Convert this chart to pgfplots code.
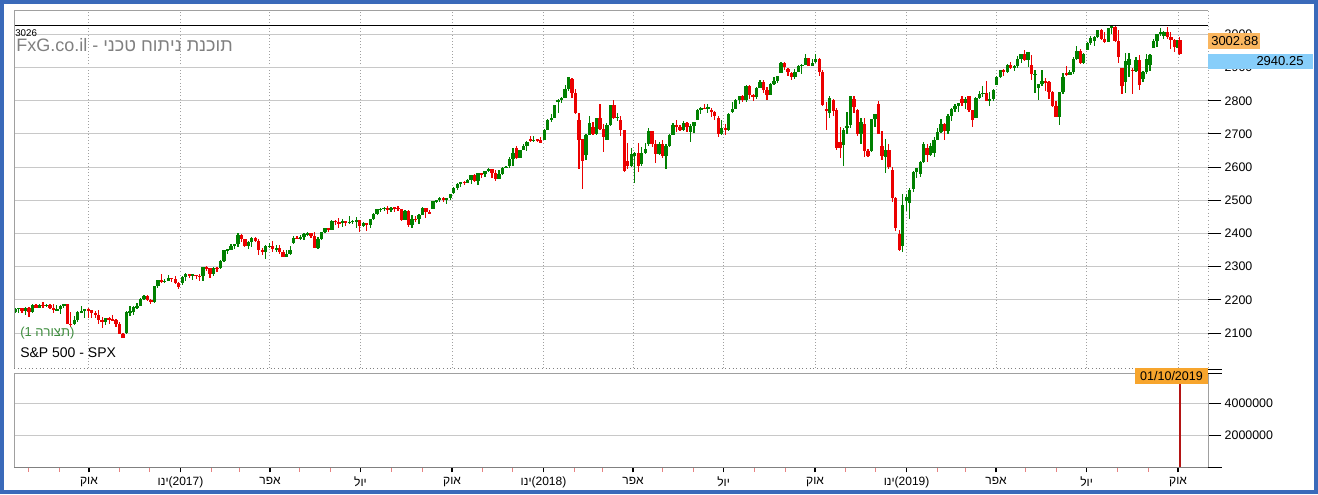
\documentclass[border=0pt]{standalone}
\usepackage{pgfplots}
\pgfplotsset{compat=1.18}
\usepackage{pgfplotstable}
\usepackage{fontspec}
\setmainfont{Liberation Sans}
\TeXXeTstate=1
\newcommand{\heb}[1]{\beginR #1\endR}
\definecolor{winblue}{RGB}{58,106,186}
\definecolor{cgreen}{RGB}{0,128,0}
\definecolor{cred}{RGB}{235,0,0}
\definecolor{gridgray}{RGB}{200,200,200}
\definecolor{framegray}{RGB}{160,160,160}
\definecolor{lblorange}{RGB}{250,182,95}
\definecolor{lblorangeb}{RGB}{247,165,45}
\definecolor{lblblue}{RGB}{135,206,250}
\definecolor{wmgray}{RGB}{128,128,128}
\definecolor{cfggreen}{RGB}{60,140,60}
\definecolor{volred}{RGB}{180,20,20}
\definecolor{minortick}{RGB}{230,130,130}

\pgfplotstableread{
x o h l c
0.1 2162 2175 2159 2173
0.6 2173 2176 2160 2175
1.1 2175 2176 2160 2166
1.6 2166 2177 2155 2174
2.1 2174 2178 2148 2163
2.6 2163 2187 2159 2183
3.1 2183 2188 2174 2175
3.6 2175 2188 2174 2184
4.1 2184 2194 2175 2182
4.6 2182 2188 2177 2184
5.1 2184 2188 2172 2176
5.6 2176 2187 2160 2169
6.1 2169 2183 2167 2171
6.6 2171 2184 2157 2180
7.1 2180 2187 2175 2186
7.6 2186 2188 2127 2128
8.1 2128 2164 2119 2126
8.6 2126 2150 2124 2139
9.1 2139 2165 2133 2164
9.6 2164 2180 2160 2165
10.1 2165 2173 2145 2171
10.6 2171 2175 2144 2168
11.1 2168 2169 2145 2160
11.6 2160 2165 2145 2153
12.1 2153 2169 2128 2139
12.6 2139 2149 2115 2133
13.1 2133 2146 2124 2144
13.6 2144 2147 2126 2141
14.1 2141 2155 2136 2139
14.6 2139 2142 2119 2126
15.1 2126 2133 2097 2098
15.6 2098 2100 2084 2085
16.1 2100 2165 2097 2163
16.6 2163 2182 2151 2164
17.1 2164 2182 2153 2177
17.6 2177 2189 2172 2182
18.1 2182 2205 2181 2204
18.6 2204 2214 2201 2213
19.1 2213 2214 2196 2199
19.6 2199 2202 2187 2192
20.1 2192 2242 2191 2241
20.6 2241 2260 2237 2260
21.1 2260 2278 2250 2253
21.6 2253 2264 2250 2258
22.1 2258 2274 2256 2265
22.6 2265 2266 2254 2264
23.1 2264 2273 2248 2250
23.6 2250 2254 2234 2239
24.1 2251 2272 2245 2270
24.6 2270 2282 2258 2277
25.1 2277 2279 2265 2275
25.6 2275 2278 2260 2275
26.1 2275 2276 2263 2272
26.6 2272 2277 2258 2271
27.1 2271 2300 2257 2298
27.6 2298 2301 2288 2295
28.1 2295 2296 2267 2279
28.6 2279 2299 2272 2297
29.1 2297 2300 2284 2295
29.6 2295 2319 2294 2316
30.1 2316 2351 2315 2350
30.6 2350 2352 2339 2351
31.1 2351 2367 2350 2362
31.6 2362 2368 2352 2367
32.1 2367 2401 2358 2396
32.6 2396 2397 2375 2383
33.1 2383 2384 2360 2363
33.6 2363 2377 2354 2373
34.1 2373 2390 2360 2385
34.6 2385 2388 2375 2378
35.1 2378 2382 2336 2349
35.6 2349 2356 2335 2344
36.1 2344 2364 2322 2361
36.6 2361 2370 2356 2363
37.1 2363 2378 2344 2352
37.6 2352 2366 2345 2356
38.1 2356 2366 2338 2345
38.6 2345 2349 2328 2329
39.1 2329 2350 2328 2338
39.6 2338 2362 2335 2349
40.1 2370 2392 2368 2387
40.6 2387 2392 2382 2384
41.1 2384 2394 2380 2389
41.6 2389 2400 2380 2399
42.1 2399 2404 2392 2400
42.6 2400 2402 2386 2391
43.1 2391 2405 2356 2357
43.6 2357 2390 2352 2382
44.1 2382 2405 2380 2404
44.6 2404 2418 2403 2416
45.1 2416 2418 2405 2412
45.6 2412 2440 2410 2439
46.1 2439 2440 2425 2434
46.6 2434 2446 2416 2432
47.1 2432 2443 2419 2437
47.6 2437 2438 2422 2433
48.1 2433 2454 2430 2435
48.6 2435 2441 2428 2438
49.1 2438 2450 2417 2440
49.6 2440 2442 2405 2423
50.1 2423 2434 2419 2432
50.6 2432 2433 2407 2425
51.1 2425 2445 2416 2443
51.6 2443 2463 2441 2459
52.1 2459 2474 2455 2473
52.6 2473 2478 2465 2473
53.1 2473 2481 2467 2478
53.6 2478 2484 2460 2472
54.1 2472 2479 2466 2478
54.6 2478 2480 2466 2477
55.1 2477 2484 2468 2474
55.6 2474 2475 2437 2441
56.1 2441 2470 2441 2468
56.6 2468 2470 2420 2426
57.1 2426 2456 2418 2444
57.6 2444 2452 2436 2443
58.1 2443 2459 2429 2457
58.6 2457 2481 2456 2477
59.1 2477 2477 2447 2465
59.6 2465 2470 2458 2461
60.1 2474 2499 2474 2498
60.6 2498 2501 2491 2500
61.1 2500 2509 2496 2508
61.6 2508 2509 2496 2502
62.1 2502 2508 2488 2507
62.6 2507 2520 2502 2519
63.1 2521 2540 2520 2537
63.6 2537 2553 2532 2549
64.1 2549 2555 2541 2555
64.6 2555 2558 2547 2553
65.1 2553 2564 2551 2561
65.6 2561 2576 2548 2575
66.1 2575 2578 2555 2557
66.6 2557 2582 2545 2581
67.1 2581 2583 2566 2579
67.6 2579 2589 2571 2588
68.1 2588 2597 2584 2594
68.6 2594 2594 2566 2582
69.1 2582 2590 2557 2565
69.6 2565 2590 2565 2579
70.1 2579 2600 2575 2597
70.6 2597 2605 2596 2602
71.1 2602 2630 2597 2626
71.6 2626 2657 2605 2642
72.1 2657 2665 2624 2629
72.6 2629 2652 2628 2652
73.1 2652 2669 2652 2663
73.6 2663 2680 2650 2675
74.1 2685 2695 2676 2679
74.6 2679 2693 2676 2683
75.1 2683 2685 2676 2682
75.6 2682 2692 2673 2674
76.1 2683 2714 2683 2713
76.6 2713 2744 2712 2743
77.1 2743 2760 2737 2748
77.6 2748 2787 2747 2786
78.1 2798 2807 2763 2803
78.6 2803 2811 2792 2810
79.1 2810 2849 2808 2837
79.6 2837 2873 2830 2873
80.1 2867 2870 2808 2824
80.6 2824 2836 2759 2762
81.1 2741 2763 2593 2682
81.6 2685 2685 2533 2620
82.1 2636 2701 2622 2698
82.6 2698 2754 2697 2732
83.1 2722 2737 2698 2701
83.6 2701 2748 2697 2747
84.1 2747 2789 2713 2714
84.6 2714 2730 2647 2691
85.1 2681 2732 2681 2727
85.6 2727 2787 2725 2786
86.1 2786 2801 2746 2749
86.6 2749 2762 2740 2752
87.1 2741 2753 2694 2711
87.6 2711 2712 2585 2588
88.1 2619 2674 2593 2605
88.6 2605 2659 2601 2641
89.1 2633 2645 2553 2644
89.6 2644 2672 2586 2604
90.1 2611 2662 2605 2642
90.6 2642 2674 2639 2656
91.1 2670 2718 2664 2708
91.6 2708 2710 2660 2670
92.1 2670 2683 2612 2639
92.6 2639 2677 2638 2670
93.1 2670 2683 2627 2635
93.6 2635 2670 2594 2663
94.1 2663 2699 2662 2697
94.6 2697 2732 2696 2728
95.1 2728 2742 2707 2722
95.6 2722 2726 2708 2713
96.1 2713 2739 2708 2733
96.6 2733 2735 2707 2721
97.1 2705 2731 2676 2725
97.6 2725 2737 2702 2735
98.1 2743 2774 2742 2772
98.6 2772 2780 2760 2779
99.1 2779 2791 2774 2775
99.6 2775 2790 2763 2780
100.1 2772 2778 2750 2767
100.6 2767 2769 2743 2755
101.1 2748 2754 2691 2699
101.6 2699 2743 2698 2718
102.1 2718 2729 2698 2713
102.6 2713 2764 2710 2760
103.1 2766 2796 2763 2775
103.6 2775 2804 2775 2801
104.1 2801 2816 2789 2815
104.6 2815 2817 2795 2802
105.1 2802 2848 2795 2846
105.6 2846 2848 2805 2819
106.1 2819 2821 2798 2813
106.6 2813 2841 2805 2840
107.1 2840 2863 2839 2857
107.6 2857 2862 2825 2833
108.1 2833 2843 2802 2819
108.6 2819 2855 2818 2850
109.1 2850 2873 2849 2861
109.6 2861 2876 2853 2875
110.1 2884 2916 2884 2914
110.6 2914 2916 2893 2902
111.1 2897 2900 2875 2888
111.6 2883 2887 2864 2872
112.1 2872 2895 2867 2888
112.6 2888 2908 2887 2905
113.1 2905 2912 2880 2908
113.6 2908 2941 2908 2930
114.1 2930 2930 2905 2906
114.6 2906 2925 2904 2914
115.1 2916 2940 2913 2926
115.6 2926 2928 2874 2886
116.1 2886 2894 2784 2786
116.6 2776 2796 2711 2768
117.1 2763 2816 2747 2809
117.6 2802 2806 2755 2768
118.1 2773 2779 2651 2657
118.6 2675 2722 2628 2658
119.1 2667 2718 2604 2712
119.6 2717 2767 2700 2723
120.1 2726 2815 2719 2814
120.6 2806 2815 2764 2781
121.1 2773 2775 2695 2701
121.6 2701 2747 2670 2736
122.1 2730 2747 2631 2649
122.6 2649 2655 2631 2633
123.1 2649 2745 2645 2744
123.6 2744 2761 2722 2760
124.1 2790 2800 2700 2700
124.6 2663 2708 2621 2633
125.1 2630 2685 2583 2651
125.6 2651 2670 2593 2600
126.1 2590 2601 2496 2507
126.6 2507 2510 2409 2417
127.1 2400 2410 2346 2351
127.6 2363 2520 2344 2486
128.1 2498 2520 2467 2510
128.6 2491 2538 2444 2532
129.1 2535 2588 2524 2585
129.6 2585 2597 2568 2596
130.1 2580 2618 2570 2616
130.6 2616 2675 2612 2671
131.1 2657 2670 2617 2638
131.6 2638 2673 2634 2665
132.1 2644 2690 2631 2681
132.6 2681 2717 2681 2707
133.1 2707 2744 2703 2731
133.6 2731 2733 2681 2708
134.1 2708 2761 2701 2753
134.6 2753 2777 2738 2776
135.1 2776 2789 2767 2784
135.6 2784 2794 2767 2793
136.1 2805 2814 2784 2792
136.6 2792 2812 2775 2804
137.1 2814 2816 2766 2771
137.6 2771 2772 2722 2743
138.1 2747 2812 2747 2810
138.6 2810 2830 2804 2822
139.1 2822 2844 2812 2824
139.6 2824 2861 2798 2800
140.1 2800 2826 2785 2805
140.6 2805 2836 2799 2834
141.1 2848 2875 2848 2873
141.6 2873 2894 2870 2893
142.1 2893 2897 2874 2888
142.6 2888 2910 2885 2907
143.1 2907 2916 2896 2900
143.6 2900 2908 2891 2905
144.1 2905 2936 2899 2927
144.6 2927 2941 2913 2940
145.1 2940 2954 2921 2924
145.6 2924 2947 2901 2946
146.1 2908 2938 2862 2880
146.6 2879 2892 2825 2881
147.1 2840 2852 2801 2850
147.6 2850 2892 2846 2860
148.1 2860 2868 2831 2856
148.6 2856 2860 2805 2826
149.1 2826 2830 2782 2783
149.6 2783 2799 2750 2752
150.1 2752 2827 2728 2826
150.6 2826 2885 2822 2873
151.1 2885 2904 2874 2879
151.6 2879 2894 2878 2887
152.1 2887 2931 2882 2926
152.6 2926 2964 2922 2950
153.1 2950 2955 2910 2913
153.6 2913 2943 2912 2942
154.1 2952 2977 2952 2973
154.6 2973 2996 2967 2990
155.1 2980 2995 2966 2993
155.6 2993 3015 2990 3014
156.1 3014 3018 2984 2985
156.6 2985 3006 2975 2977
157.1 2977 3020 2976 3019
157.6 3019 3026 3000 3025
158.1 3024 3026 2976 2980
158.6 2980 3013 2914 2932
159.1 2898 2898 2822 2844
159.6 2857 2944 2825 2919
160.1 2907 2943 2873 2926
160.6 2894 2899 2822 2889
161.1 2889 2931 2888 2924
161.6 2924 2939 2834 2847
162.1 2866 2889 2856 2887
162.6 2887 2940 2880 2926
163.1 2909 2942 2891 2938
163.6 2960 2985 2960 2979
164.1 2979 3001 2963 3000
164.6 3000 3021 2996 3007
165.1 2996 3011 2985 3006
165.6 3006 3022 2985 2992
166.1 2992 3007 2957 2984
166.6 2984 2987 2946 2962
167.0 2967 2983 2960 2977
167.4 2983 2993 2938 2940
}\candles

\pgfplotsset{
  wick/.style n args={2}{draw=none, mark=none, forget plot,
    restrict expr to domain={\thisrow{c}-\thisrow{o}}{#2},
    error bars/.cd, y dir=both, y explicit, error mark=none,
    error bar style={draw=#1, solid, line width=0.9pt}},
  body/.style n args={2}{draw=none, mark=none, forget plot,
    restrict expr to domain={\thisrow{c}-\thisrow{o}}{#2},
    error bars/.cd, y dir=both, y explicit, error mark=none,
    error bar style={draw=#1, solid, line width=2.5pt}},
}

\begin{document}
\begin{tikzpicture}
\useasboundingbox (0,0) rectangle (988.5pt,370.5pt);
\fill[white] (0,0) rectangle (988.5pt,370.5pt);

% ---------- upper panel ----------
\begin{axis}[
  at={(10.5pt,94.5pt)}, anchor=south west, scale only axis,
  width=895.5pt, height=267.75pt,
  xmin=-0.06, xmax=171.44, ymin=1994.5, ymax=3070.8,
  axis line style={draw=none},
  xtick={10.71,23.86,36.71,49.71,62.86,76.0,88.86,101.86,115.0,128.14,141.0,154.0,167.14},
  xmajorticks=false, xmajorgrids,
  major x grid style={framegray, dotted, line width=0.75pt},
  ytick={2100,2200,...,3000},
  yticklabels={2100,2200,2300,2400,2500,2600,2700,2800,2900,3000},
  ymajorgrids, major y grid style={gridgray, line width=0.75pt},
  ytick pos=right, yticklabel pos=right,
  tick align=outside, major tick length=10pt,
  major y tick style={black, line width=0.75pt},
  yticklabel style={font=\fontsize{9.3}{11}\selectfont, xshift=-1pt},
]
\addplot[wick={cgreen}{0:5000}] table[x=x, y expr={(\thisrow{h}+\thisrow{l})/2}, y error expr={(\thisrow{h}-\thisrow{l})/2}] {\candles};
\addplot[body={cgreen}{0:5000}] table[x=x, y expr={(\thisrow{o}+\thisrow{c})/2}, y error expr={max(abs(\thisrow{c}-\thisrow{o})/2,1.5)}] {\candles};
\addplot[wick={cred}{-5000:-0.001}] table[x=x, y expr={(\thisrow{h}+\thisrow{l})/2}, y error expr={(\thisrow{h}-\thisrow{l})/2}] {\candles};
\addplot[body={cred}{-5000:-0.001}] table[x=x, y expr={(\thisrow{o}+\thisrow{c})/2}, y error expr={max(abs(\thisrow{c}-\thisrow{o})/2,1.5)}] {\candles};
\addplot[black, line width=0.9pt, mark=none] coordinates {(-0.06,3026) (171.44,3026)};
\end{axis}

% ---------- lower panel: volume + y ticks ----------
\begin{axis}[
  at={(10.5pt,20.25pt)}, anchor=south west, scale only axis,
  width=895.5pt, height=70.5pt,
  xmin=-0.06, xmax=171.44, ymin=0, ymax=5875000,
  axis line style={draw=none},
  xmajorticks=false, scaled y ticks=false,
  ytick={0,2000000,4000000},
  yticklabels={,2000000,4000000},
  ymajorgrids, major y grid style={gridgray, line width=0.75pt},
  ytick pos=right, yticklabel pos=right,
  tick align=outside, major tick length=10pt,
  major y tick style={black, line width=0.75pt},
  yticklabel style={font=\fontsize{9.3}{11}\selectfont, xshift=-1pt},
]
\addplot[ycomb, color=volred, line width=1pt, mark=none] coordinates {(167.4,5500000)};
\end{axis}

% ---------- lower panel: x ticks ----------
\begin{axis}[
  at={(10.5pt,20.25pt)}, anchor=south west, scale only axis,
  width=895.5pt, height=70.5pt,
  xmin=-0.06, xmax=171.44, ymin=0, ymax=5875000,
  axis line style={draw=none},
  ymajorticks=false, scaled y ticks=false,
  xtick={10.71,23.86,36.71,49.71,62.86,76.0,88.86,101.86,115.0,128.14,141.0,154.0,167.14},
  xticklabels={{\heb{אוק}},{\heb{ינו}(2017)},{\heb{אפר}},{\heb{יול}},{\heb{אוק}},{\heb{ינו}(2018)},{\heb{אפר}},{\heb{יול}},{\heb{אוק}},{\heb{ינו}(2019)},{\heb{אפר}},{\heb{יול}},{\heb{אוק}}},
  minor xtick={2.0,6.43,15.14,19.43,28.29,32.29,41.0,45.43,54.14,58.57,67.29,71.57,80.43,84.43,93.14,97.57,106.29,110.71,119.43,123.71,132.57,136.57,145.29,149.71,158.43,162.86},
  xtick pos=bottom,
  tick align=outside, major tick length=4pt, minor tick length=3.5pt,
  major x tick style={black, line width=0.9pt},
  minor x tick style={minortick, line width=0.75pt},
  xticklabel style={font=\fontsize{9}{11}\selectfont},
]
\end{axis}

% ---------- frames and annotations (pixel coordinates) ----------
\begin{scope}[x=0.75pt, y=-0.75pt, shift={(0pt,370.5pt)}]
  % upper frame
  \draw[framegray, line width=0.75pt] (14,368) -- (14,11) -- (1208,11);
  \draw[framegray, dotted, line width=0.75pt] (1208,11) -- (1208,368);
  \draw[gray, dotted, line width=0.75pt] (14,368) -- (1208,368);
  % lower frame
  \draw[framegray, line width=0.75pt] (14,467) -- (14,373) -- (1208,373) -- (1208,467);
  \draw[gray, line width=0.75pt] (14,467) -- (1208,467);
  \draw[black, line width=0.75pt] (1208,369) -- (1222,369) (1208,373) -- (1222,373) (1208,467) -- (1222,467);
  % texts
  \node[anchor=west, inner sep=0pt, font=\fontsize{7.3}{8}\selectfont] at (15,33) {3026};
  \node[anchor=west, inner sep=0pt, text=wmgray, font=\fontsize{13.5}{15}\selectfont] at (16,45) {FxG.co.il - \heb{תוכנת ניתוח טכני}};
  \node[anchor=west, inner sep=0pt, text=cfggreen, font=\fontsize{9.75}{11}\selectfont] at (20,333) {(1 \heb{תצורה})};
  \node[anchor=west, inner sep=0pt, font=\fontsize{10.5}{12}\selectfont] at (20,353) {S\&P 500 - SPX};
  % price labels
  \fill[lblorange] (1208,33) rectangle (1260,49);
  \node[anchor=west, inner sep=0pt, font=\fontsize{9.75}{11}\selectfont] at (1211,41) {3002.88};
  \fill[lblblue] (1208,54) rectangle (1313,69);
  \node[inner sep=0pt, font=\fontsize{9.75}{11}\selectfont] at (1280,61.5) {2940.25};
  \fill[lblorangeb] (1135,368) rectangle (1208,384);
  \node[inner sep=0pt, font=\fontsize{9.4}{11}\selectfont] at (1171.5,376) {01/10/2019};
  % window border
  \draw[winblue, line width=3pt] (2,2) rectangle (1316,492);
\end{scope}
\end{tikzpicture}
\end{document}
